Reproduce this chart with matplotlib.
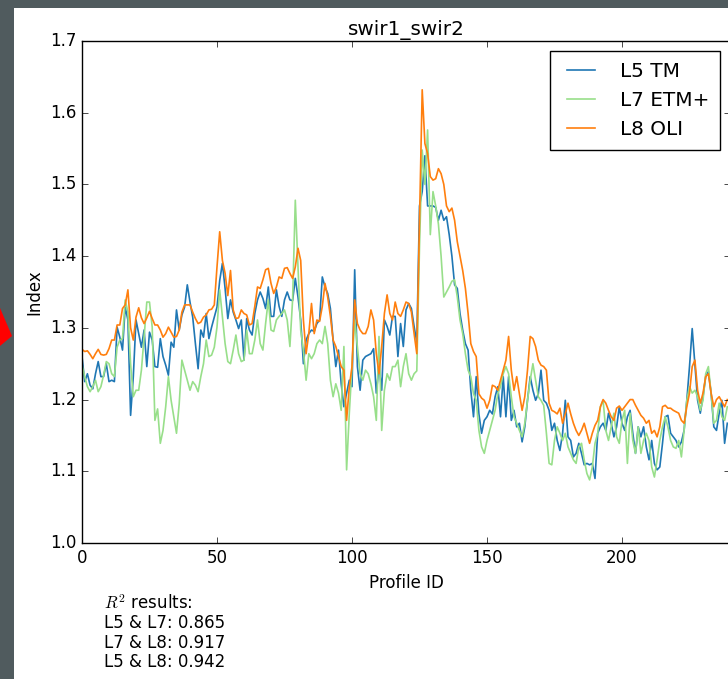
import matplotlib
matplotlib.use('Agg')
import matplotlib.pyplot as plt
from matplotlib.patches import Rectangle, Polygon

# Profile ID 0..239
l5_tm = [
    1.26, 1.225, 1.236, 1.22, 1.215, 1.236, 1.253, 1.232, 1.232, 1.25,
    1.225, 1.227, 1.225, 1.301, 1.287, 1.269, 1.329, 1.311, 1.178, 1.232,
    1.311, 1.292, 1.273, 1.297, 1.246, 1.294, 1.283, 1.246, 1.245, 1.285,
    1.26, 1.248, 1.234, 1.28, 1.273, 1.325, 1.297, 1.318, 1.329, 1.36,
    1.336, 1.315, 1.278, 1.243, 1.297, 1.287, 1.32, 1.285, 1.301, 1.315,
    1.329, 1.366, 1.39, 1.355, 1.313, 1.339, 1.322, 1.311, 1.299, 1.311,
    1.255, 1.313, 1.297, 1.29, 1.32, 1.339, 1.35, 1.341, 1.327, 1.357,
    1.316, 1.316, 1.353, 1.33, 1.316, 1.339, 1.35, 1.339, 1.338, 1.369,
    1.343, 1.311, 1.25, 1.283, 1.292, 1.297, 1.295, 1.306, 1.311, 1.371,
    1.357, 1.348, 1.327, 1.283, 1.246, 1.269, 1.222, 1.19, 1.209, 1.227,
    1.218, 1.381, 1.246, 1.213, 1.255, 1.26, 1.262, 1.264, 1.271, 1.209,
    1.246, 1.213, 1.311, 1.302, 1.29, 1.316, 1.316, 1.26, 1.306, 1.274,
    1.325, 1.334, 1.327, 1.302, 1.28, 1.47, 1.49, 1.54, 1.47, 1.47,
    1.47, 1.468, 1.45, 1.464, 1.45, 1.455, 1.43, 1.40, 1.36, 1.355,
    1.32, 1.297, 1.278, 1.269, 1.213, 1.176, 1.232, 1.18, 1.153, 1.171,
    1.176, 1.185, 1.18, 1.204, 1.218, 1.176, 1.232, 1.176, 1.232, 1.171,
    1.185, 1.162, 1.167, 1.141, 1.162, 1.199, 1.232, 1.213, 1.199, 1.208,
    1.241, 1.199, 1.195, 1.185, 1.157, 1.167, 1.143, 1.129, 1.153, 1.199,
    1.148, 1.143, 1.12, 1.125, 1.139, 1.125, 1.109, 1.111, 1.109, 1.111,
    1.09, 1.153, 1.162, 1.167, 1.157, 1.181, 1.167, 1.148, 1.162, 1.19,
    1.167, 1.157, 1.176, 1.185, 1.153, 1.125, 1.162, 1.148, 1.162, 1.134,
    1.116, 1.143, 1.111, 1.102, 1.106, 1.139, 1.176, 1.178, 1.153, 1.148,
    1.143, 1.134, 1.141, 1.157, 1.199, 1.246, 1.299, 1.25, 1.199, 1.181,
    1.204, 1.232, 1.239, 1.209, 1.162, 1.157, 1.181, 1.199, 1.139, 1.167,
]

l7_etm = [
    1.248, 1.232, 1.218, 1.211, 1.218, 1.227, 1.211, 1.218, 1.234, 1.253,
    1.25, 1.236, 1.232, 1.273, 1.283, 1.285, 1.339, 1.322, 1.25, 1.204,
    1.213, 1.213, 1.241, 1.287, 1.336, 1.336, 1.301, 1.171, 1.187, 1.139,
    1.157, 1.19, 1.232, 1.199, 1.176, 1.153, 1.194, 1.255, 1.241, 1.227,
    1.213, 1.225, 1.22, 1.211, 1.232, 1.25, 1.283, 1.26, 1.262, 1.273,
    1.301, 1.353, 1.315, 1.278, 1.253, 1.25, 1.269, 1.29, 1.264, 1.253,
    1.255, 1.297, 1.264, 1.264, 1.283, 1.311, 1.278, 1.269, 1.306, 1.339,
    1.297, 1.295, 1.311, 1.316, 1.32, 1.325, 1.311, 1.274, 1.339, 1.478,
    1.385, 1.297, 1.269, 1.227, 1.264, 1.257, 1.264, 1.278, 1.283, 1.278,
    1.302, 1.278, 1.227, 1.204, 1.222, 1.209, 1.185, 1.274, 1.102, 1.181,
    1.246, 1.311, 1.274, 1.236, 1.227, 1.241, 1.236, 1.222, 1.204, 1.171,
    1.288, 1.157, 1.213, 1.236, 1.227, 1.246, 1.246, 1.255, 1.218, 1.246,
    1.264, 1.236, 1.227, 1.236, 1.24, 1.413, 1.548, 1.50, 1.576, 1.43,
    1.49, 1.47, 1.445, 1.40, 1.343, 1.35, 1.357, 1.365, 1.367, 1.343,
    1.311, 1.292, 1.264, 1.241, 1.232, 1.208, 1.199, 1.157, 1.134, 1.125,
    1.143, 1.157, 1.171, 1.185, 1.208, 1.218, 1.236, 1.246, 1.236, 1.204,
    1.176, 1.167, 1.157, 1.148, 1.167, 1.199, 1.227, 1.25, 1.227, 1.204,
    1.199, 1.192, 1.153, 1.111, 1.109, 1.143, 1.162, 1.153, 1.143, 1.153,
    1.134, 1.125, 1.116, 1.111, 1.134, 1.139, 1.116, 1.097, 1.088, 1.106,
    1.139, 1.153, 1.19, 1.199, 1.157, 1.143, 1.162, 1.181, 1.148, 1.139,
    1.171, 1.185, 1.111, 1.181, 1.143, 1.125, 1.162, 1.125, 1.143, 1.153,
    1.143, 1.106, 1.092, 1.116, 1.143, 1.162, 1.176, 1.162, 1.143, 1.134,
    1.132, 1.143, 1.12, 1.157, 1.199, 1.218, 1.209, 1.213, 1.204, 1.185,
    1.199, 1.236, 1.246, 1.209, 1.167, 1.171, 1.195, 1.176, 1.171, 1.19,
]

l8_oli = [
    1.27, 1.267, 1.268, 1.263, 1.257, 1.264, 1.27, 1.263, 1.262, 1.263,
    1.271, 1.283, 1.283, 1.304, 1.304, 1.327, 1.332, 1.353, 1.30, 1.283,
    1.315, 1.328, 1.314, 1.306, 1.314, 1.323, 1.313, 1.304, 1.304, 1.297,
    1.287, 1.292, 1.301, 1.294, 1.287, 1.288, 1.297, 1.322, 1.332, 1.332,
    1.332, 1.322, 1.313, 1.306, 1.308, 1.315, 1.318, 1.325, 1.326, 1.332,
    1.385, 1.434, 1.394, 1.376, 1.345, 1.38, 1.325, 1.313, 1.314, 1.325,
    1.32, 1.318, 1.304, 1.306, 1.33, 1.357, 1.355, 1.367, 1.381, 1.383,
    1.362, 1.348, 1.357, 1.371, 1.369, 1.383, 1.384, 1.376, 1.369, 1.385,
    1.411, 1.394, 1.311, 1.264, 1.292, 1.334, 1.292, 1.311, 1.309, 1.33,
    1.362, 1.343, 1.316, 1.283, 1.274, 1.26, 1.246, 1.241, 1.171, 1.218,
    1.246, 1.339, 1.306, 1.297, 1.292, 1.292, 1.302, 1.325, 1.311, 1.264,
    1.236, 1.274, 1.32, 1.346, 1.32, 1.311, 1.336, 1.32, 1.316, 1.325,
    1.336, 1.334, 1.322, 1.292, 1.264, 1.45, 1.632, 1.557, 1.543, 1.511,
    1.506, 1.508, 1.522, 1.515, 1.50, 1.47, 1.462, 1.467, 1.45, 1.42,
    1.40, 1.38, 1.355, 1.32, 1.278, 1.267, 1.26, 1.208, 1.202, 1.199,
    1.188, 1.199, 1.22, 1.218, 1.213, 1.227, 1.241, 1.255, 1.288, 1.241,
    1.213, 1.232, 1.208, 1.185, 1.204, 1.241, 1.288, 1.285, 1.274, 1.255,
    1.248, 1.246, 1.241, 1.195, 1.185, 1.183, 1.18, 1.188, 1.167, 1.18,
    1.195, 1.18, 1.167, 1.157, 1.15, 1.157, 1.167, 1.153, 1.139, 1.153,
    1.164, 1.171, 1.19, 1.2, 1.195, 1.185, 1.176, 1.171, 1.188, 1.191,
    1.185, 1.19, 1.195, 1.2, 1.2, 1.192, 1.185, 1.178, 1.174, 1.167,
    1.171, 1.153, 1.157, 1.148, 1.162, 1.19, 1.192, 1.188, 1.188, 1.185,
    1.183, 1.181, 1.171, 1.167, 1.19, 1.209, 1.246, 1.255, 1.213, 1.195,
    1.209, 1.232, 1.236, 1.209, 1.19, 1.2, 1.204, 1.197, 1.19, 1.2,
]

profile_id = list(range(len(l5_tm)))

r2_text = "$R^2$ results:\nL5 & L7: 0.865\nL7 & L8: 0.917\nL5 & L8: 0.942"

plt.style.use('classic')
W, H = 728, 679
fig = plt.figure(figsize=(W / 100, H / 100), dpi=100)
fig.patch.set_facecolor('#505b5e')

# white page area of the screenshot
fig.patches.append(Rectangle((14 / W, 0), 1 - 14 / W, 1 - 8 / H,
                             transform=fig.transFigure, facecolor='white',
                             edgecolor='none', zorder=-10))
# red marker on the left edge
fig.patches.append(Polygon([(0, 1 - 308 / H), (12 / W, 1 - 336 / H), (0, 1 - 346 / H)],
                           closed=True, transform=fig.transFigure,
                           facecolor='#ff0000', edgecolor='none', zorder=-5))

ax = fig.add_axes([82 / W, 1 - 543 / H, 648 / W, 502 / H])
ax.set_zorder(1)
ax.plot(profile_id, l5_tm, color='#1f77b4', lw=1.2, label='L5 TM')
ax.plot(profile_id, l7_etm, color='#98df8a', lw=1.2, label='L7 ETM+')
ax.plot(profile_id, l8_oli, color='#ff7f0e', lw=1.2, label='L8 OLI')

ax.set_xlim(0, 240)
ax.set_ylim(1.0, 1.7)
ax.set_xticks([0, 50, 100, 150, 200])
ax.set_yticks([1.0, 1.1, 1.2, 1.3, 1.4, 1.5, 1.6, 1.7])
ax.set_title('swir1_swir2', pad=4)
ax.set_xlabel('Profile ID')
ax.set_ylabel('Index')
ax.legend(loc='upper right', handlelength=2.0, handletextpad=0.95,
          borderpad=0.55, labelspacing=0.5)

fig.text(104 / W, 1 - 594 / H, r2_text, va='top', ha='left', fontsize=12,
         linespacing=1.1)

fig.savefig('out.png', dpi=100, facecolor=fig.get_facecolor())
